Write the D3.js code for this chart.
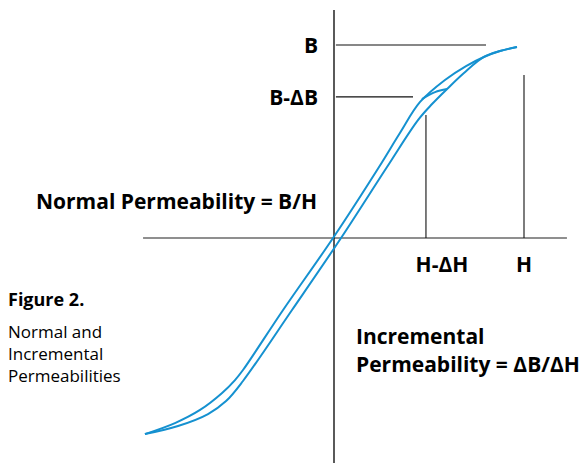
<!DOCTYPE html>
<html>
<head>
<meta charset="utf-8">
<script src="https://cdn.jsdelivr.net/npm/d3@7"></script>
<style>
  body { margin: 0; background: #fff; }
  text { font-family: "Open Sans", "Noto Sans", sans-serif; fill: #000; }
</style>
</head>
<body>
<svg id="chart" width="587" height="463"></svg>
<script>
// magnetisation curve, in (H, B) units where H = 1 and B = 1 are the marked points
const upperBranch = [
  [-0.995, -1.016], [-0.837, -0.959], [-0.705, -0.891], [-0.589, -0.803],
  [-0.521, -0.736], [-0.479, -0.684], [-0.268, -0.373], [-0.005, 0],
  [0.237, 0.368], [0.347, 0.544], [0.453, 0.705], [0.584, 0.819],
  [0.695, 0.891], [0.789, 0.938], [0.874, 0.969], [0.963, 0.990]
];
const lowerBranch = [
  [-0.995, -1.016], [-0.821, -0.974], [-0.663, -0.912], [-0.568, -0.845],
  [-0.479, -0.741], [-0.221, -0.373], [0.037, 0], [0.279, 0.368],
  [0.442, 0.611], [0.516, 0.694], [0.595, 0.772], [0.684, 0.855],
  [0.789, 0.938], [0.874, 0.969], [0.963, 0.990]
];
const minorLoop = [[0.463, 0.720], [0.532, 0.756], [0.595, 0.772]];

// reference lines
const levelB = [
  { b: 1, hEnd: 0.80, label: 'B' },
  { b: 0.731, hEnd: 0.416, label: 'B-\u0394B' }
];
const levelH = [
  { h: 1, bTop: 0.845, label: 'H' },
  { h: 0.484, bTop: 0.637, label: 'H-\u0394H' }
];
const figureCaption = ['Normal and', 'Incremental', 'Permeabilities'];

const svg = d3.select('#chart');

const x = d3.scaleLinear().domain([-1, 1]).range([144, 524]);
const y = d3.scaleLinear().domain([-1, 1]).range([431, 45]);

// axes
svg.append('line')
  .attr('x1', x(-1.005)).attr('x2', x(1.226))
  .attr('y1', y(0)).attr('y2', y(0))
  .style('stroke', '#6a6a6a').attr('stroke-width', 1.5);

svg.append('line')
  .attr('x1', x(0)).attr('x2', x(0))
  .attr('y1', y(1.181)).attr('y2', 463)
  .style('stroke', '#000').attr('stroke-width', 1.3);

// B levels
svg.selectAll('.lvlB').data(levelB).enter().append('line')
  .attr('class', 'lvlB')
  .attr('x1', x(0.01)).attr('x2', d => x(d.hEnd))
  .attr('y1', d => y(d.b)).attr('y2', d => y(d.b))
  .style('stroke', '#111').attr('stroke-width', 1.1);

// H levels
svg.selectAll('.lvlH').data(levelH).enter().append('line')
  .attr('class', 'lvlH')
  .attr('x1', d => x(d.h)).attr('x2', d => x(d.h))
  .attr('y1', d => y(d.bTop)).attr('y2', y(0))
  .style('stroke', '#111').attr('stroke-width', 1.1);

// curve
const line = d3.line()
  .x(d => x(d[0]))
  .y(d => y(d[1]))
  .curve(d3.curveCatmullRom);

[upperBranch, lowerBranch, minorLoop].forEach(pts => {
  svg.append('path')
    .datum(pts)
    .attr('d', line)
    .style('fill', 'none')
    .style('stroke', '#1591d0')
    .attr('stroke-width', 2);
});

// labels
svg.selectAll('.lblB').data(levelB).enter().append('text')
  .attr('class', 'lblB')
  .attr('x', 318).attr('y', d => y(d.b) + 8)
  .attr('text-anchor', 'end')
  .style('font-weight', 'bold').style('font-size', '21px')
  .text(d => d.label);

svg.append('text').text('H-\u0394H')
  .attr('x', x(0.484) + 16).attr('y', 272).attr('text-anchor', 'middle')
  .style('font-weight', 'bold').style('font-size', '21px');
svg.append('text').text('H')
  .attr('x', x(1)).attr('y', 272).attr('text-anchor', 'middle')
  .style('font-weight', 'bold').style('font-size', '21px');

svg.append('text').text('Normal Permeability = B/H')
  .attr('x', 36).attr('y', 208.5)
  .style('font-weight', 'bold').style('font-size', '21px');

svg.append('text').text('Incremental')
  .attr('x', 356).attr('y', 343.5)
  .style('font-weight', 'bold').style('font-size', '21px');
svg.append('text').text('Permeability = \u0394B/\u0394H')
  .attr('x', 356).attr('y', 371.5)
  .style('font-weight', 'bold').style('font-size', '21px');

svg.append('text').text('Figure 2.')
  .attr('x', 8).attr('y', 306)
  .style('font-weight', 'bold').style('font-size', '18px');
svg.selectAll('.cap').data(figureCaption).enter().append('text')
  .attr('class', 'cap')
  .attr('x', 8).attr('y', (d, i) => 338 + i * 22)
  .style('font-size', '17px')
  .text(d => d);
</script>
</body>
</html>
